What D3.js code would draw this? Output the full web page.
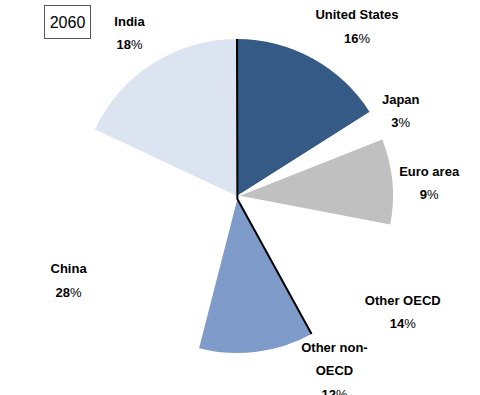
<!doctype html>
<html>
<head>
<meta charset="UTF-8">
<title>2060 shares</title>
<script src="https://d3js.org/d3.v7.min.js"></script>
<style>
  body{ margin:0; background:#fff; }
  text{ font-family:"Liberation Sans", Arial, sans-serif; }
</style>
</head>
<body>
<svg width="480" height="395" id="chart"></svg>
<script>
// data
var year = "2060";
var regions = ["United States", "Japan", "Euro area", "Other OECD", "Other non-OECD", "China", "India"];
var shares = [16, 3, 9, 14, 12, 28, 18];

// styles
var fills = {
  "United States": "#355A85",
  "Japan": "#ffffff",
  "Euro area": "#C0C0C0",
  "Other OECD": "#ffffff",
  "Other non-OECD": "#7F9BCA",
  "China": "#ffffff",
  "India": "#DBE4F0"
};
var explode = { "Euro area": 3, "Other non-OECD": 3 };
var shrink = { "Euro area": 4, "Other non-OECD": 3 };
var nudge = {
  "United States": [26, 1],
  "Japan": [-10, 3],
  "Euro area": [-2, 5],
  "Other OECD": [8, 1],
  "Other non-OECD": [73, -19],
  "China": [8, 1],
  "India": [-3, 1]
};

var cx = 237, cy = 196, r = 157, labelR = 195;

var svg = d3.select("#chart");
var g = svg.append("g").attr("transform", "translate(" + cx + "," + cy + ")");

var pie = d3.pie().sort(null).value(function(d){ return d.v; });
var data = pie(regions.map(function(n, i){ return { name: n, v: shares[i] }; }));

var arc = d3.arc().innerRadius(0);
var labelArc = d3.arc().innerRadius(labelR).outerRadius(labelR);

function offset(d){
  var e = explode[d.data.name] || 0;
  var a = (d.startAngle + d.endAngle) / 2;
  return [Math.sin(a) * e, -Math.cos(a) * e];
}

g.selectAll("path.slice")
  .data(data)
  .enter()
  .append("path")
  .attr("class", "slice")
  .attr("transform", function(d){ var o = offset(d); return "translate(" + o[0] + "," + o[1] + ")"; })
  .attr("d", function(d){ return arc.outerRadius(r - (shrink[d.data.name] || 0))(d); })
  .attr("fill", function(d){ return fills[d.data.name]; });

// black edge line: top of US slice, through centre, to the edge of Other non-OECD
var us = data[0], non = data[4];
var o = offset(non), rn = r - (shrink[non.data.name] || 0);
var pts = [
  [Math.sin(us.startAngle) * r, -Math.cos(us.startAngle) * r],
  [o[0], o[1]],
  [o[0] + Math.sin(non.startAngle) * rn, o[1] - Math.cos(non.startAngle) * rn]
];
g.append("path")
  .attr("d", d3.line()(pts))
  .attr("fill", "none")
  .attr("stroke", "#000")
  .attr("stroke-width", 2);

// labels
var lab = g.selectAll("g.label")
  .data(data)
  .enter()
  .append("g")
  .attr("class", "label")
  .attr("transform", function(d){
    var c = labelArc.centroid(d), n = nudge[d.data.name] || [0, 0];
    return "translate(" + (c[0] + n[0]) + "," + (c[1] + n[1]) + ")";
  });

lab.each(function(d){
  var lines = d.data.name.replace("non-", "non-\n").split("\n");
  var total = lines.length + 1;
  var step = 23.5;
  var y0 = -(total - 1) * step / 2 + 5;
  var sel = d3.select(this);
  lines.forEach(function(t, i){
    sel.append("text")
      .attr("x", 0)
      .attr("y", y0 + i * step)
      .attr("text-anchor", "middle")
      .attr("font-size", 13)
      .attr("font-weight", "bold")
      .attr("fill", "#000")
      .text(t);
  });
  var pt = sel.append("text")
    .attr("x", 0)
    .attr("y", y0 + lines.length * step)
    .attr("text-anchor", "middle")
    .attr("font-size", 13)
    .attr("fill", "#000");
  pt.append("tspan").attr("font-weight", "bold").text(d.data.v);
  pt.append("tspan").text("%");
});

// year box
svg.append("rect")
  .attr("x", 44.5).attr("y", 5.5)
  .attr("width", 46).attr("height", 33)
  .attr("fill", "#fff")
  .attr("stroke", "#555")
  .attr("stroke-width", 1);
svg.append("text")
  .attr("x", 67.5).attr("y", 28)
  .attr("text-anchor", "middle")
  .attr("font-size", 16)
  .attr("fill", "#000")
  .text(year);
</script>
</body>
</html>
